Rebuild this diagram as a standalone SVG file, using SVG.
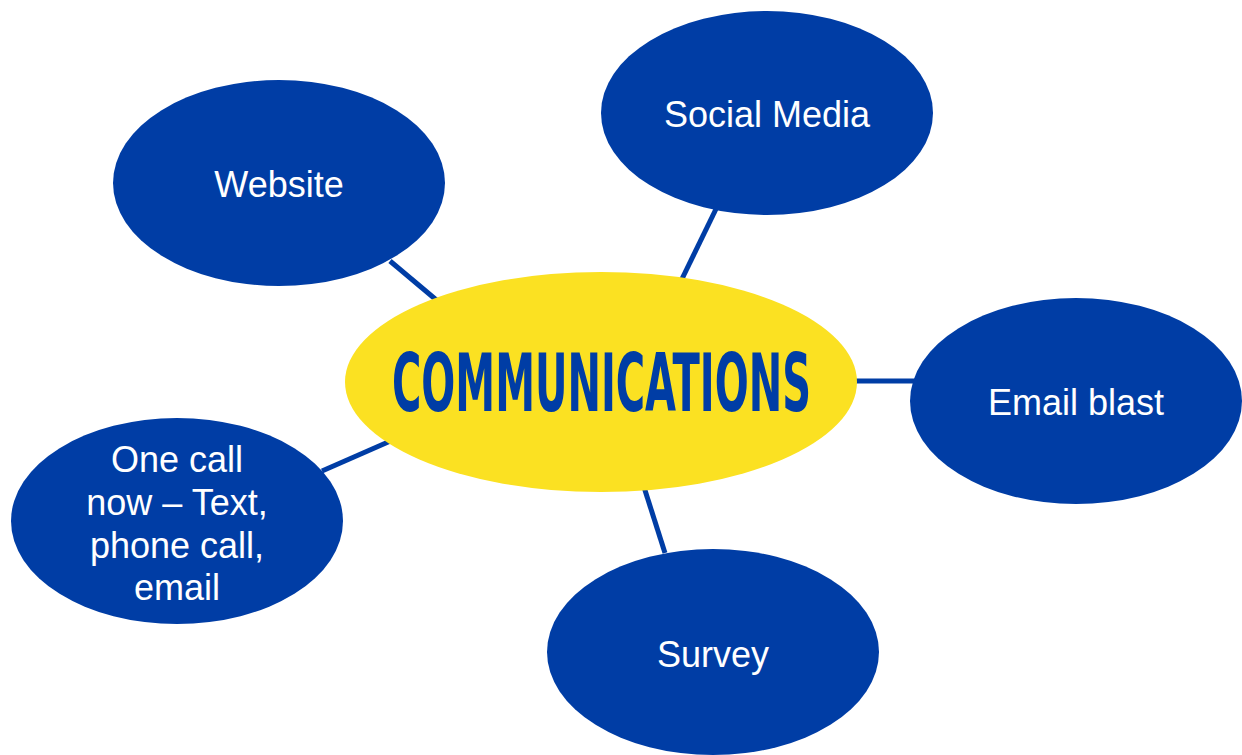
<svg xmlns="http://www.w3.org/2000/svg" width="1242" height="755" viewBox="0 0 1242 755">
<style>
.node{fill:#003DA5}
.hub{fill:#FBE122}
.lbl{font-family:"Liberation Sans",Arial,sans-serif;font-size:36px;fill:#ffffff;text-anchor:middle}
.edge{stroke:#003DA5;stroke-width:5;fill:none}
.title{font-family:"DejaVu Sans Condensed","DejaVu Sans",sans-serif;font-weight:bold;font-size:80px;fill:#003DA5}
</style>
<rect width="1242" height="755" fill="#ffffff"/>
<g id="connectors">
<line class="edge" x1="390" y1="261" x2="440" y2="303"/>
<line class="edge" x1="716" y1="209" x2="680" y2="283"/>
<line class="edge" x1="850" y1="381" x2="915" y2="381"/>
<line class="edge" x1="643" y1="484" x2="665" y2="553"/>
<line class="edge" x1="322" y1="471" x2="395" y2="439"/>
</g>
<g id="website">
<ellipse class="node" cx="279" cy="183" rx="166" ry="103"/>
<text class="lbl" x="279" y="197">Website</text>
</g>
<g id="social-media">
<ellipse class="node" cx="767" cy="113" rx="166" ry="102"/>
<text class="lbl" x="767" y="127">Social Media</text>
</g>
<g id="email-blast">
<ellipse class="node" cx="1076" cy="401" rx="166" ry="103"/>
<text class="lbl" x="1076" y="415">Email blast</text>
</g>
<g id="survey">
<ellipse class="node" cx="713" cy="652" rx="166" ry="103"/>
<text class="lbl" x="713" y="667">Survey</text>
</g>
<g id="one-call">
<ellipse class="node" cx="177" cy="521" rx="166" ry="103"/>
<text class="lbl" x="177" y="472">One call</text>
<text class="lbl" x="177" y="515">now – Text,</text>
<text class="lbl" x="177" y="558">phone call,</text>
<text class="lbl" x="177" y="600">email</text>
</g>
<g id="communications">
<ellipse class="hub" cx="601" cy="382" rx="256" ry="110"/>
<text class="title" x="392" y="411" textLength="419" lengthAdjust="spacingAndGlyphs">COMMUNICATIONS</text>
</g>
</svg>
